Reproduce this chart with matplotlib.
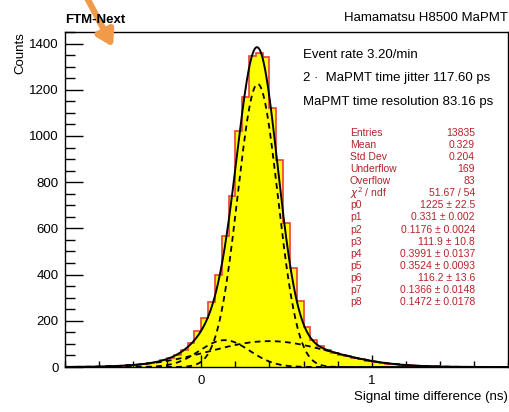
import numpy as np
import matplotlib
matplotlib.use('Agg')
import matplotlib.pyplot as plt
from matplotlib.ticker import MultipleLocator, FixedLocator

plt.rcParams['font.family'] = ['Liberation Sans', 'DejaVu Sans']

# histogram: 0.04 ns bins from -0.8 to 1.8 ns
bin_start = -0.8
bin_width = 0.04
counts = [0, 1, 0, 1, 2, 2, 3, 4, 6, 7,
          10, 13, 18, 22, 30, 40, 53, 74, 106, 155,
          210, 280, 400, 565, 738, 1020, 1168, 1348, 1360, 1340,
          1120, 895, 622, 430, 285, 175, 115, 90, 75, 62,
          53, 47, 40, 34, 28, 23, 19, 15, 12, 9,
          7, 6, 4, 3, 4, 2, 1, 1, 0, 1,
          0, 0, 0, 0, 0]
edges = np.round(bin_start + bin_width * np.arange(len(counts) + 1), 3)

# fit parameters (3 gaussians)
params = [1225, 0.331, 0.1176, 111.9, 0.3991, 0.3524, 116.2, 0.1366, 0.1472]

stat_labels = ['Entries', 'Mean', 'Std Dev', 'Underflow', 'Overflow',
               r'$\chi^{2}$ / ndf', 'p0', 'p1', 'p2', 'p3', 'p4', 'p5',
               'p6', 'p7', 'p8']
stat_values = ['13835', '0.329', '0.204', '169', '83', '51.67 / 54',
               '1225 \u00b1 22.5', '0.331 \u00b1 0.002', '0.1176 \u00b1 0.0024',
               '111.9 \u00b1 10.8', '0.3991 \u00b1 0.0137', '0.3524 \u00b1 0.0093',
               '116.2 \u00b1 13.6', '0.1366 \u00b1 0.0148', '0.1472 \u00b1 0.0178']

info_lines = ['Event rate 3.20/min',
              '2 \u00b7  MaPMT time jitter 117.60 ps',
              'MaPMT time resolution 83.16 ps']


def gaus(x, a, m, s):
    return a * np.exp(-0.5 * ((x - m) / s) ** 2)


W, H = 510, 412
fig = plt.figure(figsize=(W / 100, H / 100), dpi=100)


def px(x, y):
    return x / W, 1 - y / H


ax = fig.add_axes([65 / W, 1 - 367 / H, (508 - 65) / W, (367 - 32) / H])

ax.stairs(counts, edges, fill=True, color='#ffff00', zorder=1)
ax.stairs(counts, edges, color='#e8403c', lw=1.2, zorder=2)

xs = np.linspace(-0.8, 1.8, 1000)
total = np.zeros_like(xs)
for i in range(3):
    comp = gaus(xs, *params[3 * i:3 * i + 3])
    total += comp
    ax.plot(xs, comp, color='black', lw=1.3, ls=(0, (3.2, 2.4)), zorder=3)
ax.plot(xs, total, color='black', lw=1.4, zorder=4)

ax.set_xlim(-0.8, 1.8)
ax.set_ylim(0, 1450)
ax.xaxis.set_major_locator(FixedLocator([0, 1]))
ax.xaxis.set_minor_locator(MultipleLocator(0.2))
ax.yaxis.set_major_locator(MultipleLocator(200))
ax.yaxis.set_minor_locator(MultipleLocator(50))
ax.tick_params(axis='x', which='major', direction='in', length=9, width=1,
               labelsize=9.5, pad=5.5)
ax.tick_params(axis='x', which='minor', direction='in', length=4.5, width=1)
ax.tick_params(axis='y', which='major', direction='in', length=13, width=1,
               labelsize=9.5, pad=4.5)
ax.tick_params(axis='y', which='minor', direction='in', length=7, width=1)
for s in ax.spines.values():
    s.set_linewidth(1.0)

# texts
fig.text(*px(65, 20), 'FTM-Next', fontsize=9.5, fontweight='bold',
         ha='left', va='center')
fig.text(*px(508, 18), 'Hamamatsu H8500 MaPMT', fontsize=9.5,
         ha='right', va='center')
fig.text(*px(20, 32), 'Counts', fontsize=9.5, rotation=90,
         ha='center', va='top')
fig.text(*px(508, 397), 'Signal time difference (ns)', fontsize=9.5,
         ha='right', va='center')

for i, line in enumerate(info_lines):
    fig.text(*px(303, 55 + i * 23.5), line, fontsize=9.5, ha='left', va='center')

red = '#b5242a'
for i, (lab, val) in enumerate(zip(stat_labels, stat_values)):
    y = 133 + i * 12.07
    fig.text(*px(350, y), lab, fontsize=7.5, color=red, ha='left', va='center')
    fig.text(*px(475, y), val, fontsize=7.5, color=red, ha='right', va='center')

# orange arrow overlay
ax.annotate('', xy=(113, H - 47), xycoords='figure pixels',
            xytext=(85, H + 6), textcoords='figure pixels',
            arrowprops=dict(arrowstyle='-|>,head_width=0.55,head_length=0.9',
                            lw=4.5, color='#f19a4a', shrinkA=0, shrinkB=0),
            zorder=10)

fig.savefig('out.png', dpi=100)
